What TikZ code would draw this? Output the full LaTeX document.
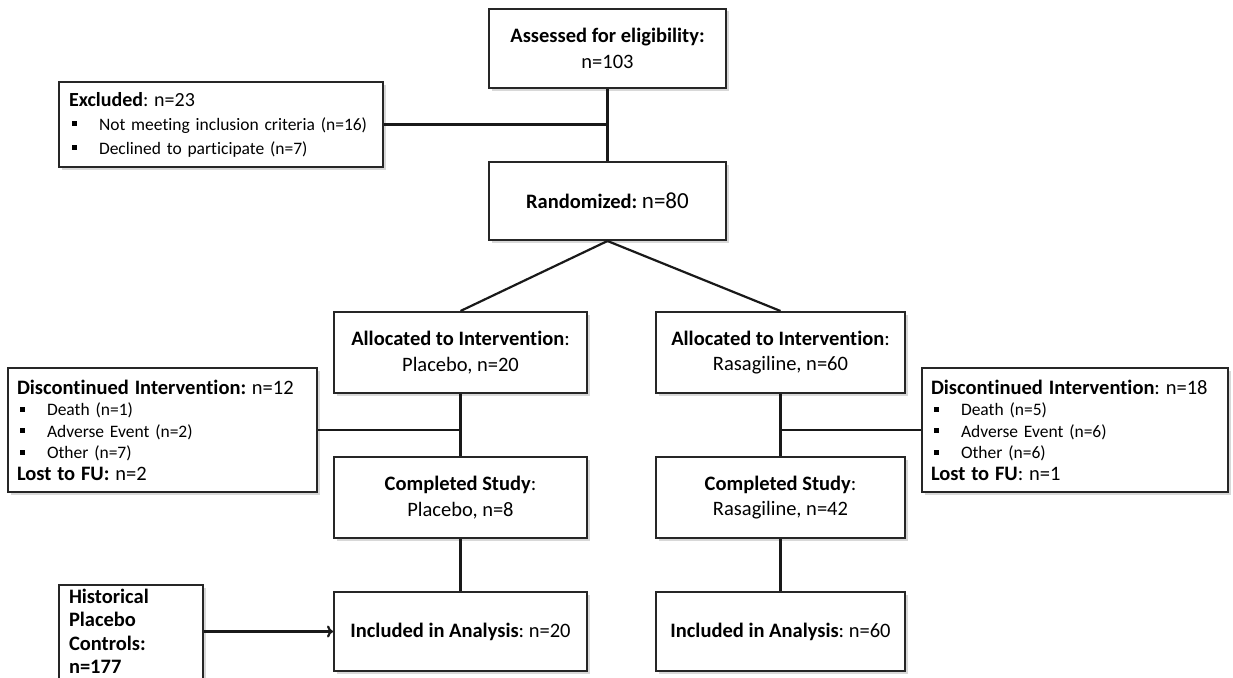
\documentclass[tikz,border=0pt]{standalone}
\usepackage{fontspec}
\setmainfont{Carlito}[Ligatures=NoCommon]
\usetikzlibrary{shadows,arrows.meta}

\newcommand{\bul}{\hspace*{3pt}\makebox[27pt][l]{\rule[0.22em]{0.3em}{0.3em}}}

\begin{document}
\frenchspacing
\begin{tikzpicture}[x=1pt,y=-1pt,
	box/.style={draw=black!85,line width=2pt,fill=white,
		drop shadow={shadow xshift=2.5pt,shadow yshift=-2.5pt,opacity=0.3},
		align=center,inner sep=0pt,font=\fontsize{20.5}{25.5}\selectfont},
	list/.style={box,align=left,inner xsep=9pt,font=\fontsize{17.5}{21.5}\selectfont},
	link/.style={line width=2.2pt,black!90},
	>={To[length=6pt,width=12pt]}]

\useasboundingbox (0,0) rectangle (1233,677);
\clip (0,0) rectangle (1233,677);
\fill[white] (0,0) rectangle (1233,677);

%top
\node[box,minimum width=237,minimum height=79] (assess) at (607.5,48.5) {\textbf{Assessed for eligibility:}\\n=103};
\node[box,minimum width=237,minimum height=78] (rand) at (607.5,201) {\textbf{Randomized:} {\fontsize{23}{25}\selectfont n=80}};
\node[list,text width=304,minimum height=85,inner xsep=10pt,font=\fontsize{17.5}{24}\selectfont] (excl) at (221,124.5)
	{{\fontsize{20}{24}\selectfont\textbf{Excluded}: n=23}\\
	\bul Not meeting inclusion criteria (n=16)\\
	\bul Declined to participate (n=7)};

%placebo arm
\node[box,minimum width=253,minimum height=81] (allocP) at (460.5,352.5) {\textbf{Allocated to Intervention}:\\Placebo, n=20};
\node[box,minimum width=253,minimum height=81] (compP) at (460.5,497.5) {\textbf{Completed Study}:\\Placebo, n=8};
\node[box,minimum width=253,minimum height=79] (inclP) at (460.5,631.5) {\textbf{Included in Analysis}: n=20};

%rasagiline arm
\node[box,minimum width=249,minimum height=81] (allocR) at (780.5,352.5) {\textbf{Allocated to Intervention}:\\Rasagiline, n=60};
\node[box,minimum width=249,minimum height=81] (compR) at (780.5,497.5) {\textbf{Completed Study}:\\Rasagiline, n=42};
\node[box,minimum width=249,minimum height=79] (inclR) at (780.5,631.5) {\textbf{Included in Analysis}: n=60};

%dropouts
\node[list,text width=291,minimum height=124] (discP) at (162.5,430)
	{{\fontsize{20.5}{21.5}\selectfont\textbf{Discontinued Intervention:} n=12}\\
	\bul Death (n=1)\\
	\bul Adverse Event (n=2)\\
	\bul Other (n=7)\\
	{\fontsize{20.5}{21.5}\selectfont\textbf{Lost to FU:} n=2}};
\node[list,text width=288,minimum height=124] (discR) at (1075,430)
	{{\fontsize{20.5}{21.5}\selectfont\textbf{Discontinued Intervention}: n=18}\\
	\bul Death (n=5)\\
	\bul Adverse Event (n=6)\\
	\bul Other (n=6)\\
	{\fontsize{20.5}{21.5}\selectfont\textbf{Lost to FU}: n=1}};

%historical controls (runs off the bottom edge)
\node[list,anchor=north west,text width=124,inner xsep=10pt,inner ysep=4pt,font=\fontsize{20.5}{23.5}\selectfont\bfseries,align=left] (hist) at (58,584)
	{Historical\\Placebo\\Controls:\\n=177\\\mbox{}};

\coordinate (exclJ) at (assess.south |- excl.east);
\coordinate (discPJ) at (allocP.south |- discP.east);
\coordinate (discRJ) at (allocR.south |- discR.east);

\draw[link] (assess) -- (rand);
\draw[link] (excl.east) -- (exclJ);
\draw[link] (rand.south) -- (allocP.north);
\draw[link] (rand.south) -- (allocR.north);
\draw[link] (allocP) -- (compP);
\draw[link] (compP) -- (inclP);
\draw[link] (allocR) -- (compR);
\draw[link] (compR) -- (inclR);
\draw[link] (discP.east) -- (discPJ);
\draw[link] (discR.west) -- (discRJ);
\draw[link,->] (hist.east |- inclP.west) -- (inclP.west);

\end{tikzpicture}
\end{document}
